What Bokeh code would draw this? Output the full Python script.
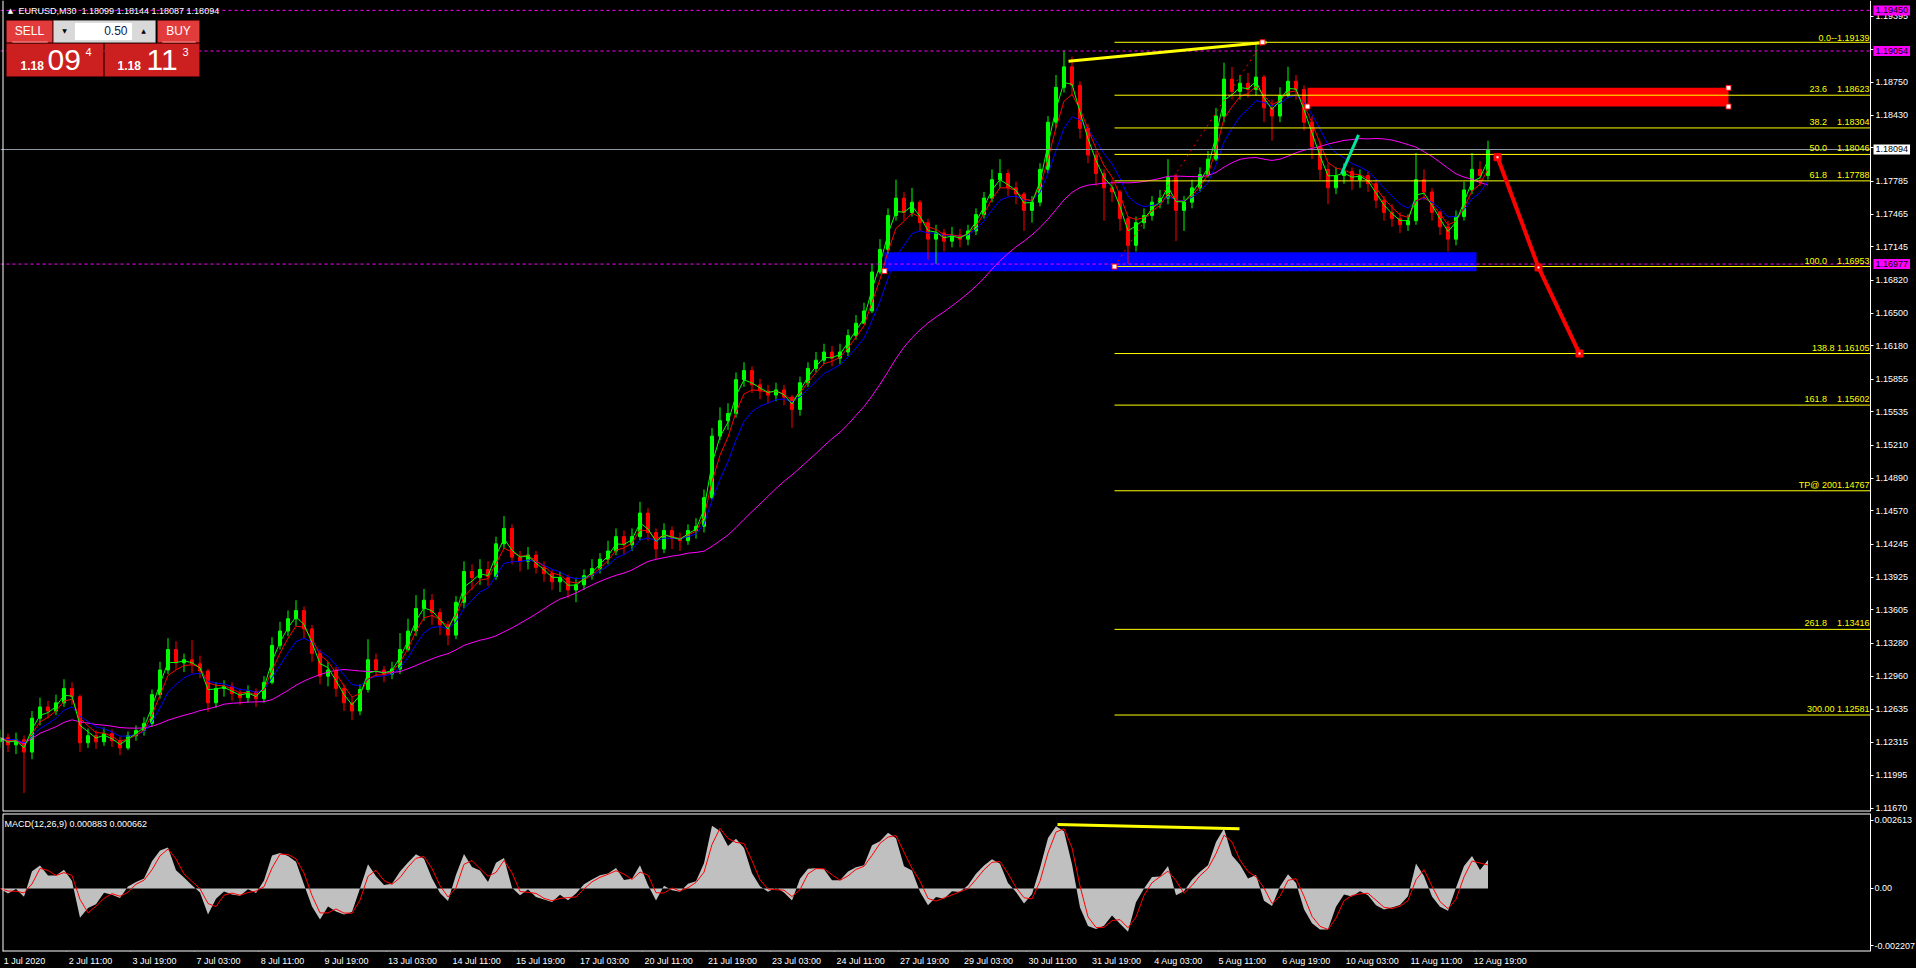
import pandas as pd
from bokeh.plotting import figure
from bokeh.layouts import column
from bokeh.models import (Range1d, FixedTicker, Label, BoxAnnotation, LinearAxis,
                          ColumnDataSource, PrintfTickFormatter)
from bokeh.embed import file_html
from bokeh.resources import INLINE
from bokeh.core.properties import value

# ---------------------------------------------------------------- data
BARS_PER_CANDLE = 8          # every candle below aggregates 8 M30 bars (4 hours)
first_open = 1.1232

close = [
    1.1236, 1.1229, 1.1234, 1.1222, 1.1255, 1.1266,
    1.1262, 1.1270, 1.1284, 1.1276, 1.1231, 1.1238,
    1.1232, 1.1240, 1.1233, 1.1226, 1.1238, 1.1243,
    1.1250, 1.1278, 1.1302, 1.1322, 1.1309, 1.1312,
    1.1308, 1.1301, 1.1270, 1.1284, 1.1286, 1.1279,
    1.1275, 1.1281, 1.1274, 1.1290, 1.1326, 1.1340,
    1.1352, 1.1360, 1.1342, 1.1318, 1.1296, 1.1302,
    1.1284, 1.1270, 1.1262, 1.1283, 1.1312, 1.1302,
    1.1298, 1.1303, 1.1322, 1.1340, 1.1362, 1.1370,
    1.1358, 1.1346, 1.1336, 1.1368, 1.1398, 1.1392,
    1.1400, 1.1393, 1.1425, 1.1440, 1.1412, 1.1408,
    1.1414, 1.1402, 1.1396, 1.1388, 1.1392, 1.1380,
    1.1385, 1.1394, 1.1401, 1.1410, 1.1418, 1.1432,
    1.1424, 1.1432, 1.1455, 1.1436, 1.1420, 1.1438,
    1.1430, 1.1428, 1.1438, 1.1442, 1.1470, 1.1530,
    1.1545, 1.1552, 1.1585, 1.1594, 1.1580, 1.1574,
    1.1570, 1.1575, 1.1568, 1.1556, 1.1582, 1.1596,
    1.1604, 1.1612, 1.1606, 1.1612, 1.1628, 1.1640,
    1.1652, 1.1690, 1.1712, 1.1745, 1.1762, 1.1748,
    1.1758, 1.1738, 1.1722, 1.1728, 1.1720, 1.1726,
    1.1722, 1.1730, 1.1746, 1.1762, 1.1780, 1.1786,
    1.1772, 1.1766, 1.1750, 1.1758, 1.1790, 1.1836,
    1.1870, 1.1890, 1.1872, 1.1830, 1.1804, 1.1786,
    1.1772, 1.1768, 1.1742, 1.1716, 1.1738, 1.1745,
    1.1758, 1.1762, 1.1782, 1.1750, 1.1758, 1.1772,
    1.1785, 1.1800, 1.1842, 1.1878, 1.1866, 1.1874,
    1.1868, 1.1880, 1.1850, 1.1842, 1.1862, 1.1876,
    1.1868, 1.1836, 1.1812, 1.1790, 1.1772, 1.1784,
    1.1788, 1.1780, 1.1784, 1.1776, 1.1760, 1.1748,
    1.1742, 1.1736, 1.1740, 1.1780, 1.1768, 1.1748,
    1.1734, 1.1722, 1.1744, 1.1770, 1.1790, 1.1784,
    1.18094,
]
high = [
    1.1244, 1.1240, 1.1241, 1.1238, 1.1262, 1.1275,
    1.1272, 1.1278, 1.1293, 1.1290, 1.1278, 1.1245,
    1.1243, 1.1246, 1.1244, 1.1237, 1.1242, 1.1248,
    1.1256, 1.1283, 1.1310, 1.1333, 1.1330, 1.1318,
    1.1331, 1.1316, 1.1303, 1.1290, 1.1292, 1.1290,
    1.1284, 1.1287, 1.1284, 1.1296, 1.1334, 1.1349,
    1.1360, 1.1370, 1.1364, 1.1346, 1.1322, 1.1310,
    1.1305, 1.1288, 1.1276, 1.1288, 1.1332, 1.1318,
    1.1306, 1.1310, 1.1338, 1.1352, 1.1375, 1.1381,
    1.1376, 1.1362, 1.1350, 1.1374, 1.1408, 1.1405,
    1.1410, 1.1408, 1.1432, 1.1452, 1.1444, 1.1418,
    1.1422, 1.1418, 1.1408, 1.1400, 1.1398, 1.1395,
    1.1392, 1.1400, 1.1410, 1.1416, 1.1428, 1.1440,
    1.1438, 1.1440, 1.1466, 1.1460, 1.1440, 1.1445,
    1.1442, 1.1436, 1.1444, 1.1450, 1.1478, 1.1538,
    1.1558, 1.1562, 1.1592, 1.1602, 1.1598, 1.1586,
    1.1580, 1.1582, 1.1580, 1.1570, 1.1588, 1.1602,
    1.1612, 1.1620, 1.1618, 1.1620, 1.1634, 1.1648,
    1.1660, 1.1698, 1.1722, 1.1752, 1.1780, 1.1768,
    1.1772, 1.1760, 1.1742, 1.1736, 1.1732, 1.1734,
    1.1732, 1.1736, 1.1752, 1.1768, 1.1790, 1.1800,
    1.1790, 1.1778, 1.1768, 1.1764, 1.1796, 1.1842,
    1.1882, 1.1906, 1.1900, 1.1876, 1.1834, 1.1808,
    1.1790, 1.1780, 1.1770, 1.1744, 1.1744, 1.1752,
    1.1764, 1.1770, 1.1800, 1.1786, 1.1764, 1.1780,
    1.1792, 1.1808, 1.1850, 1.1894, 1.1890, 1.1882,
    1.1884, 1.1913, 1.1882, 1.1858, 1.1870, 1.1890,
    1.1882, 1.1872, 1.1842, 1.1818, 1.1796, 1.1792,
    1.1796, 1.1792, 1.1790, 1.1788, 1.1780, 1.1764,
    1.1756, 1.1748, 1.1746, 1.1806, 1.1790, 1.1772,
    1.1750, 1.1740, 1.1750, 1.1778, 1.1806, 1.1798,
    1.1818,
]
low = [
    1.1226, 1.1222, 1.1220, 1.1182, 1.1215, 1.1248,
    1.1255, 1.1258, 1.1266, 1.1268, 1.1222, 1.1226,
    1.1225, 1.1228, 1.1227, 1.1219, 1.1224, 1.1233,
    1.1238, 1.1247, 1.1274, 1.1298, 1.1302, 1.1300,
    1.1299, 1.1294, 1.1261, 1.1265, 1.1276, 1.1272,
    1.1268, 1.1270, 1.1266, 1.1270, 1.1288, 1.1322,
    1.1335, 1.1345, 1.1333, 1.1310, 1.1288, 1.1286,
    1.1276, 1.1262, 1.1253, 1.1258, 1.1280, 1.1296,
    1.1290, 1.1293, 1.1298, 1.1320, 1.1335, 1.1350,
    1.1346, 1.1336, 1.1326, 1.1332, 1.1362, 1.1380,
    1.1385, 1.1384, 1.1390, 1.1420, 1.1405, 1.1398,
    1.1400, 1.1396, 1.1388, 1.1380, 1.1378, 1.1372,
    1.1368, 1.1380, 1.1390, 1.1396, 1.1405, 1.1414,
    1.1415, 1.1418, 1.1428, 1.1428, 1.1410, 1.1416,
    1.1420, 1.1418, 1.1424, 1.1430, 1.1436, 1.1468,
    1.1526, 1.1536, 1.1548, 1.1578, 1.1572, 1.1566,
    1.1562, 1.1564, 1.1560, 1.1538, 1.1550, 1.1578,
    1.1592, 1.1600, 1.1598, 1.1600, 1.1608, 1.1624,
    1.1640, 1.1650, 1.1688, 1.1708, 1.1740, 1.1740,
    1.1744, 1.1730, 1.1702, 1.1698, 1.1710, 1.1714,
    1.1714, 1.1716, 1.1726, 1.1742, 1.1758, 1.1772,
    1.1764, 1.1756, 1.1730, 1.1738, 1.1754, 1.1786,
    1.1830, 1.1865, 1.1862, 1.1820, 1.1796, 1.1774,
    1.1740, 1.1758, 1.1730, 1.1698, 1.1710, 1.1732,
    1.1740, 1.1752, 1.1756, 1.1720, 1.1730, 1.1752,
    1.1768, 1.1782, 1.1798, 1.1836, 1.1858, 1.1858,
    1.1860, 1.1862, 1.1836, 1.1818, 1.1836, 1.1860,
    1.1858, 1.1828, 1.1800, 1.1780, 1.1756, 1.1766,
    1.1776, 1.1770, 1.1772, 1.1768, 1.1752, 1.1740,
    1.1734, 1.1728, 1.1730, 1.1736, 1.1760, 1.1740,
    1.1726, 1.1710, 1.1716, 1.1740, 1.1766, 1.1774,
    1.1780,
]

price_ticks = [1.19395, 1.19070, 1.18750, 1.18430, 1.18110, 1.17785, 1.17465,
               1.17145, 1.16820, 1.16500, 1.16180, 1.15855, 1.15535, 1.15210,
               1.14890, 1.14570, 1.14245, 1.13925, 1.13605, 1.13280, 1.12960,
               1.12635, 1.12315, 1.11995, 1.11670]
macd_ticks = [0.002613, 0.0, -0.002207]
macd_tick_text = ["0.002613", "0.00", "-0.002207"]

time_labels = ["1 Jul 2020", "2 Jul 11:00", "3 Jul 19:00", "7 Jul 03:00", "8 Jul 11:00",
               "9 Jul 19:00", "13 Jul 03:00", "14 Jul 11:00", "15 Jul 19:00",
               "17 Jul 03:00", "20 Jul 11:00", "21 Jul 19:00", "23 Jul 03:00",
               "24 Jul 11:00", "27 Jul 19:00", "29 Jul 03:00", "30 Jul 11:00",
               "31 Jul 19:00", "4 Aug 03:00", "5 Aug 11:00", "6 Aug 19:00",
               "10 Aug 03:00", "11 Aug 11:00", "12 Aug 19:00"]
FIRST_LABEL_BAR = 6        # 1 Jul 03:00
LABEL_STEP_BARS = 64       # 32 hours of M30 bars

NB = "\u00a0"
fib_high = 1.19139
fib_low = 1.16953
fib_ratios = [0.0, 23.6, 38.2, 50.0, 61.8, 100.0, 138.8, 161.8, 200.0, 261.8, 300.0]
fib_texts = ["0.0--1.19139", "23.6" + NB * 4 + "1.18623", "38.2" + NB * 4 + "1.18304",
             "50.0" + NB * 4 + "1.18046", "61.8" + NB * 4 + "1.17788",
             "100.0" + NB * 4 + "1.16953", "138.8" + NB + "1.16105",
             "161.8" + NB * 4 + "1.15602", "TP@" + NB + "2001.14767",
             "261.8" + NB * 4 + "1.13416", "300.00" + NB + "1.12581"]
fib_anchor_bars = [1118, 1266]

alert_levels = [1.19450, 1.19054, 1.16977]
bid_price = 1.18094

supply_bars = [1311, 1732]
supply_prices = [1.18513, 1.18695]
demand_bars = [888, 1480]
demand_prices = [1.16908, 1.17093]

price_trend_bars = [1072, 1270]
price_trend_vals = [1.18955, 1.19140]
macd_trend_bars = [1061, 1243]
macd_trend_vals = [0.00246, 0.00229]
proj_bars = [1501, 1542, 1583]
proj_vals = [1.18019, 1.16944, 1.16105]
impulse_bars = [1345, 1362]
impulse_vals = [1.17857, 1.18237]

# ---------------------------------------------------------------- derived
n = len(close)
opens = [first_open] + close[:-1]
xc = [BARS_PER_CANDLE * k + (BARS_PER_CANDLE - 1) / 2 for k in range(n)]
hi = [max(h, o, c) for h, o, c in zip(high, opens, close)]
lo = [min(l, o, c) for l, o, c in zip(low, opens, close)]
col = ["#00FF00" if c >= o else "#FF0000" for o, c in zip(opens, close)]
src = ColumnDataSource(dict(x=xc, h=hi, l=lo, top=[max(o, c) for o, c in zip(opens, close)],
                            bot=[min(o, c) for o, c in zip(opens, close)], col=col))

s = pd.Series(close)
ma_fast = s.ewm(span=2.2, adjust=False).mean()
ma_mid = s.ewm(span=3.6, adjust=False).mean()
ma_slow = s.ewm(span=6.5, adjust=False).mean()
ma_long = s.rolling(25, min_periods=1).mean()


def candle_span(period):
    a = 2.0 / (period + 1)
    a_c = 1 - (1 - a) ** BARS_PER_CANDLE
    return 2.0 / a_c - 1


macd = (s.ewm(span=candle_span(12), adjust=False).mean()
        - s.ewm(span=candle_span(26), adjust=False).mean())
signal = macd.rolling(2, min_periods=1).mean()

fib_prices = [fib_high - r / 100.0 * (fib_high - fib_low) for r in fib_ratios]

# ---------------------------------------------------------------- layout
W = 1916
FH = 811
MH = 138
X0 = 4                      # bar shown at the left edge of the canvas
X1 = X0 + W
X_AXIS = 1874               # bar where the price scale is drawn
LEFT_EDGE = 6.5
FONT = "Liberation Sans"
P_LO, P_HI = 1.116405, 1.195464
M_LO, M_HI = -0.00242, 0.00288

x_rng = Range1d(X0, X1)
p = figure(frame_width=W, frame_height=FH, x_range=x_rng,
           y_range=Range1d(P_LO, P_HI), output_backend="svg",
           toolbar_location=None, x_axis_location=None, y_axis_location=None,
           min_border_left=0, min_border_top=0, min_border_bottom=2, min_border_right=0,
           background_fill_color="black", border_fill_color="black",
           outline_line_color=None)
p.grid.visible = False


def style_axis(ax, size="9px", standoff=2):
    ax.major_label_text_color = "white"
    ax.major_label_text_font = FONT
    ax.major_label_text_font_size = size
    ax.axis_line_color = "white"
    ax.major_tick_line_color = "white"
    ax.major_tick_out = 3
    ax.major_tick_in = 0
    ax.minor_tick_line_color = None
    ax.major_label_standoff = standoff


ya = LinearAxis(fixed_location=X_AXIS, ticker=FixedTicker(ticks=price_ticks),
                formatter=PrintfTickFormatter(format="%.5f"))
style_axis(ya)
p.add_layout(ya, "right")

# zones (drawn as background)
p.quad(left=[demand_bars[0]], right=[demand_bars[1]], bottom=[demand_prices[0]],
       top=[demand_prices[1]], fill_color="#0000FF", line_color=None)
p.quad(left=[supply_bars[0]], right=[supply_bars[1]], bottom=[supply_prices[0]],
       top=[supply_prices[1]], fill_color="#FF0000", line_color=None)

# candles
p.segment(x0="x", y0="h", x1="x", y1="l", line_color="col", line_width=1, source=src)
p.vbar(x="x", width=3, top="top", bottom="bot", fill_color="col", line_color="col",
       line_width=1, source=src)

# moving averages
p.line(xc, list(ma_long), line_color="#FF00FF", line_width=1)
p.line(xc, list(ma_slow), line_color="#0000FF", line_width=1)
p.line(xc, list(ma_mid), line_color="#FF0000", line_width=1)
p.line(xc, list(ma_fast), line_color="#00FF00", line_width=1)

# alert levels and bid line (stop at the price scale)
na = len(alert_levels)
p.segment(x0=[X0] * na, y0=alert_levels, x1=[X_AXIS] * na, y1=alert_levels,
          line_color="#FF00FF", line_dash="3 3", line_width=1)
p.segment(x0=[X0], y0=[bid_price], x1=[X_AXIS], y1=[bid_price], line_color="#8C98A4",
          line_width=1)

# fibonacci
nf = len(fib_prices)
p.segment(x0=[fib_anchor_bars[0]] * nf, y0=fib_prices, x1=[X_AXIS] * nf, y1=fib_prices,
          line_color="#FFFF00", line_width=1)
p.text(x=[X_AXIS - 1] * nf, y=fib_prices, text=fib_texts, text_align="right",
       text_baseline="bottom", y_offset=-1, text_color="#FFFF00",
       text_font=value(FONT), text_font_size="9px")
p.line(fib_anchor_bars, [fib_low, fib_high], line_color="#FF0000", line_dash="2 4",
       line_width=1)

# trend lines / projection
p.line(price_trend_bars, price_trend_vals, line_color="#FFFF00", line_width=3)
p.line(impulse_bars, impulse_vals, line_color="#00E59A", line_width=3)
p.line(proj_bars, proj_vals, line_color="#FF0000", line_width=4)
p.scatter(proj_bars, proj_vals, marker="square", size=7, fill_color="#FF0000",
          line_color="#FF0000")
p.scatter(proj_bars, proj_vals, marker="square", size=2, fill_color="white",
          line_color=None)

# object handles
handle_x = [fib_anchor_bars[0], fib_anchor_bars[1], supply_bars[0], supply_bars[1],
            supply_bars[1], demand_bars[0]]
handle_y = [fib_low, fib_high, supply_prices[0], supply_prices[1], supply_prices[0],
            demand_prices[0]]
p.scatter(handle_x, handle_y, marker="square", size=5, fill_color="white",
          line_color="#FF0000")

# pane borders
p.segment(x0=[LEFT_EDGE], y0=[P_LO], x1=[LEFT_EDGE], y1=[P_HI], line_color="white",
          line_width=1)
p.segment(x0=[LEFT_EDGE], y0=[P_LO], x1=[X_AXIS], y1=[P_LO], line_color="white",
          line_width=2)

# price boxes on the scale
for lvl in alert_levels:
    p.add_layout(Label(x=X_AXIS + 3, y=lvl, text=f"{lvl:.5f}", text_align="left",
                       text_baseline="middle", text_font=FONT, text_font_size="9px",
                       text_color="black", background_fill_color="#FF00FF",
                       padding=2, level="overlay"))
p.add_layout(Label(x=X_AXIS + 3, y=bid_price, text=f"{bid_price:.5f}", text_align="left",
                   text_baseline="middle", text_font=FONT, text_font_size="9px",
                   text_color="black", background_fill_color="white", padding=2,
                   level="overlay"))


# ---------------------------------------------------------------- MT4 window furniture
def sbox(x0, y0, x1, y1, fill, line=None):
    return BoxAnnotation(left=x0, right=x1, top=FH - y0, bottom=FH - y1,
                         left_units="screen", right_units="screen",
                         top_units="screen", bottom_units="screen", fill_color=fill,
                         fill_alpha=1.0, line_color=line if line else fill, line_width=1,
                         level="overlay")


def slabel(px, py, text, size, color="white", align="left", baseline="middle",
           style="normal", font=FONT):
    return Label(x=px, y=FH - py, x_units="screen", y_units="screen", text=text,
                 text_font=font, text_font_size=f"{size}px", text_color=color,
                 text_align=align, text_baseline=baseline, text_font_style=style,
                 level="overlay")


p.add_layout(slabel(10, 10, "\u25B2", 7, font="DejaVu Sans", align="center"))
p.add_layout(slabel(18, 10, "EURUSD,M30" + NB * 2 + "1.18099 1.18144 1.18087 1.18094", 9))

p.add_layout(sbox(6, 20, 52, 42, "#E23B3B", "#8A0000"))
p.add_layout(sbox(157, 20, 199, 42, "#E23B3B", "#8A0000"))
p.add_layout(sbox(53, 20, 155, 42, "#D9D9D9", "#9A9A9A"))
p.add_layout(sbox(74, 22, 132, 40, "#FFFFFF", "#B0B0B0"))
p.add_layout(sbox(6, 43, 103, 76, "#CC1F1F", "#7A0000"))
p.add_layout(sbox(104, 43, 199, 76, "#CC1F1F", "#7A0000"))
p.add_layout(sbox(12, 41, 47, 42, "#F08080"))
p.add_layout(sbox(162, 41, 195, 42, "#F08080"))
p.add_layout(slabel(29, 30, "SELL", 12, align="center"))
p.add_layout(slabel(178, 30, "BUY", 12, align="center"))
p.add_layout(slabel(64, 30, "\u25BC", 6, color="black", align="center", font="DejaVu Sans"))
p.add_layout(slabel(143, 30, "\u25B2", 6, color="black", align="center", font="DejaVu Sans"))
p.add_layout(slabel(127, 30, "0.50", 12, color="#10204A", align="right"))
p.add_layout(slabel(20, 65, "1.18", 12, style="bold"))
p.add_layout(slabel(47, 59, "09", 30))
p.add_layout(slabel(85, 51, "4", 11))
p.add_layout(slabel(117, 65, "1.18", 12, style="bold"))
p.add_layout(slabel(146, 59, "11", 30))
p.add_layout(slabel(182, 51, "3", 11))

# ---------------------------------------------------------------- MACD pane
q = figure(frame_width=W, frame_height=MH, x_range=x_rng,
           y_range=Range1d(M_LO, M_HI), output_backend="svg",
           toolbar_location=None, x_axis_location="below", y_axis_location=None,
           min_border_left=0, min_border_top=0, min_border_bottom=0, min_border_right=0,
           background_fill_color="black", border_fill_color="black",
           outline_line_color=None)
q.grid.visible = False
q.varea(x=xc, y1=[0.0] * n, y2=list(macd), fill_color="#C0C0C0")
q.line(xc, list(signal), line_color="#FF0000", line_width=1)
q.line(macd_trend_bars, macd_trend_vals, line_color="#FFFF00", line_width=3)
q.add_layout(Label(x=4, y=MH - 10, x_units="screen", y_units="screen",
                   text="MACD(12,26,9) 0.000883 0.000662", text_font=FONT,
                   text_font_size="9px", text_color="white", text_baseline="middle"))
q.segment(x0=[LEFT_EDGE, LEFT_EDGE, LEFT_EDGE], y0=[M_LO, M_HI, M_LO],
          x1=[X_AXIS, X_AXIS, LEFT_EDGE], y1=[M_LO, M_HI, M_HI], line_color="white",
          line_width=[2, 2, 1])

qy = LinearAxis(fixed_location=X_AXIS, ticker=FixedTicker(ticks=macd_ticks))
qy.major_label_overrides = dict(zip(macd_ticks, macd_tick_text))
style_axis(qy, standoff=1)
q.add_layout(qy, "right")

# time scale: tick marks at the bars, texts start just right of each mark
label_bars = [FIRST_LABEL_BAR + LABEL_STEP_BARS * i for i in range(len(time_labels))]
label_centres = [b + 1.5 + 4.1 * len(t) / 2 for b, t in zip(label_bars, time_labels)]
qx = q.xaxis[0]
qx.ticker = FixedTicker(ticks=label_centres)
qx.major_label_overrides = dict(zip(label_centres, time_labels))
style_axis(qx, standoff=1)
qx.axis_line_color = None
qx.major_tick_line_color = None

qt = LinearAxis(fixed_location=M_LO, ticker=FixedTicker(ticks=label_bars))
style_axis(qt)
qt.axis_line_color = None
qt.major_label_text_alpha = 0
q.add_layout(qt, "below")

layout = column(p, q, spacing=0, background="black")
open("out.html", "w").write(file_html(layout, INLINE))
